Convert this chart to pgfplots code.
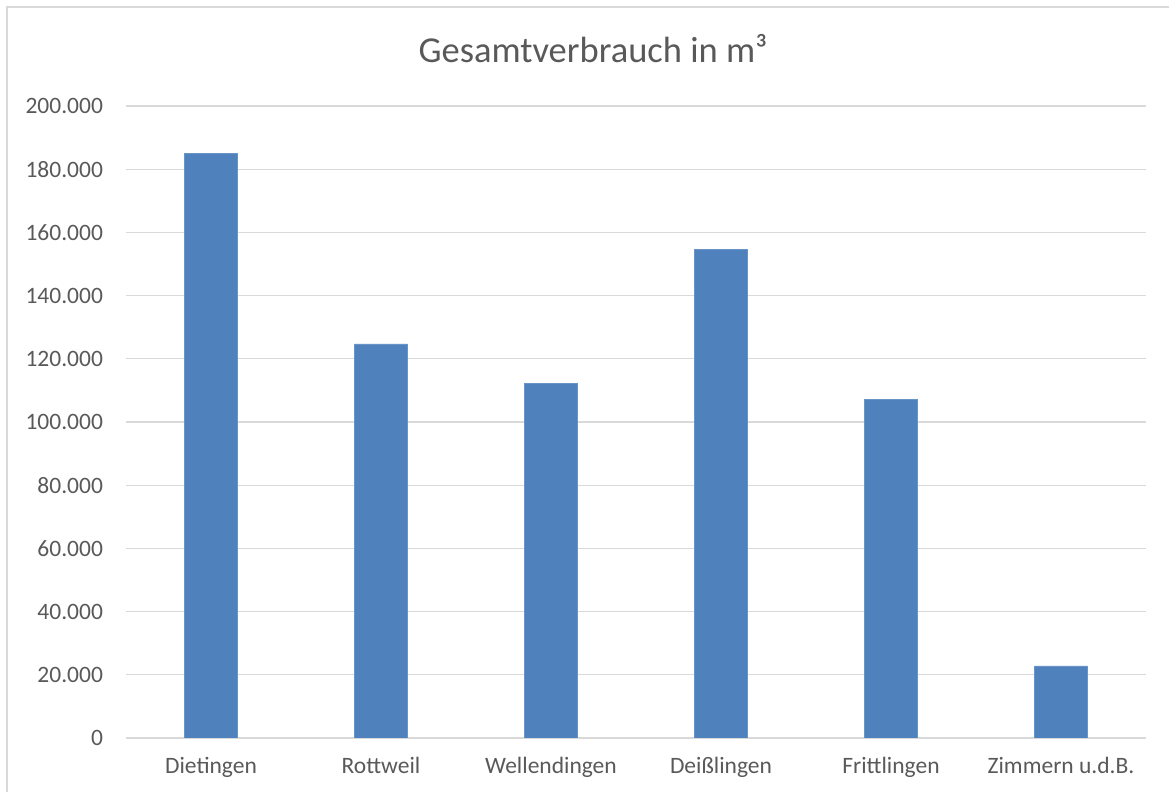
\documentclass[border=0pt]{standalone}
\usepackage{pgfplots}
\pgfplotsset{compat=1.18}
\usepackage{fontspec}
\setmainfont{Carlito}
\definecolor{barblue}{HTML}{4F81BD}
\definecolor{gridgray}{HTML}{D9D9D9}
\definecolor{txtgray}{HTML}{595959}
\begin{document}
\begin{tikzpicture}
\path[use as bounding box] (0,0) rectangle (584.5pt,396pt);
\draw[gridgray, line width=0.75pt] (3.5pt,0) -- (3.5pt,392.5pt) -- (584.5pt,392.5pt);
\node[anchor=base, text=txtgray, font=\fontsize{18.25pt}{22pt}\selectfont] at (296.5pt,364.5pt) {Gesamtverbrauch in m³};
\begin{axis}[
  at={(63pt,27pt)}, anchor=south west,
  scale only axis, width=510pt, height=316pt,
  xmin=-0.5, xmax=5.5, ymin=0, ymax=200000,
  ytick={0,20000,...,200000},
  xtick={0,1,2,3,4,5},
  xticklabels={Dietingen,Rottweil,Wellendingen,Deißlingen,Frittlingen,Zimmern u.d.B.},
  scaled y ticks=false,
  /pgf/number format/.cd, fixed, 1000 sep={.}, assume math mode=true,
  /pgfplots/.cd,
  axis line style={draw=none},
  major tick length=0pt,
  ymajorgrids,
  grid style={gridgray, line width=0.65pt},
  tick label style={text=txtgray, font=\fontsize{11.75pt}{14pt}\selectfont},
  yticklabel style={xshift=-8pt},
  xticklabel style={yshift=-6pt},
  extra y ticks={0}, extra y tick labels={},
  extra y tick style={grid style={gridgray, line width=0.65pt}},
]
\addplot[ybar, bar width=26.5pt, fill=barblue, draw=barblue!85!white] coordinates {
  (0,185100) (1,124700) (2,112300) (3,154700) (4,107100) (5,22800)
};
\end{axis}
\end{tikzpicture}
\end{document}
